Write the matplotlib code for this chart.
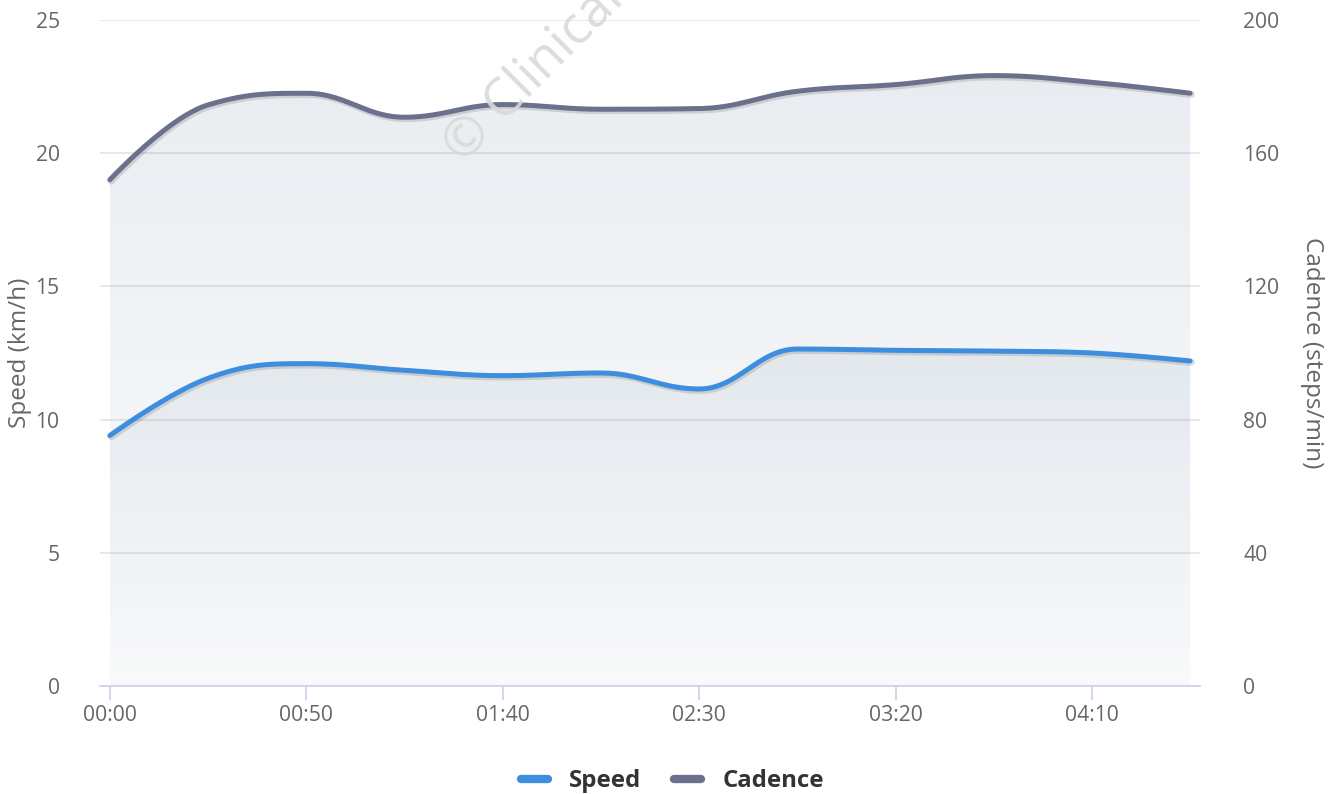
import numpy as np
import matplotlib
matplotlib.use("Agg")
import matplotlib.pyplot as plt
import matplotlib.patheffects as pe
from matplotlib.lines import Line2D

plt.rcParams['font.family'] = ['Open Sans', 'DejaVu Sans']

# data (one point every 25 minutes)
time_labels = ["00:00", "00:25", "00:50", "01:15", "01:40", "02:05",
               "02:30", "02:55", "03:20", "03:45", "04:10", "04:35"]
speed = [9.4, 11.55, 12.1, 11.85, 11.65, 11.75, 11.15, 12.65, 12.6, 12.57, 12.5, 12.2]
cadence = [152, 174.5, 178, 170.8, 174.6, 173.2, 173.4, 178.6, 180.6, 183.3, 181.3, 178.0]

speed_color = "#3e8ee0"
cadence_color = "#6b718c"
fill_rgb = (0.45, 0.55, 0.65)


def spline(xs, ys, steps=30):
    # highcharts style spline (smoothing 1.5)
    n = len(xs)
    sm = 1.5
    right = [None] * n
    left = [None] * n
    for i in range(n):
        x, y = xs[i], ys[i]
        if 0 < i < n - 1:
            lx, ly, nx, ny = xs[i - 1], ys[i - 1], xs[i + 1], ys[i + 1]
            lcx = (sm * x + lx) / (sm + 1)
            lcy = (sm * y + ly) / (sm + 1)
            rcx = (sm * x + nx) / (sm + 1)
            rcy = (sm * y + ny) / (sm + 1)
            corr = (rcy - lcy) * (rcx - x) / (rcx - lcx) + y - rcy
            lcy += corr
            rcy += corr
            if lcy > ly and lcy > y:
                lcy = max(ly, y)
                rcy = 2 * y - lcy
            elif lcy < ly and lcy < y:
                lcy = min(ly, y)
                rcy = 2 * y - lcy
            if rcy > ny and rcy > y:
                rcy = max(ny, y)
                lcy = 2 * y - rcy
            elif rcy < ny and rcy < y:
                rcy = min(ny, y)
                lcy = 2 * y - rcy
            left[i] = (lcx, lcy)
            right[i] = (rcx, rcy)
        else:
            left[i] = (x, y)
            right[i] = (x, y)
    px, py = [xs[0]], [ys[0]]
    t = np.linspace(0, 1, steps)[1:]
    for i in range(1, n):
        p0 = np.array([xs[i - 1], ys[i - 1]])
        p1 = np.array(right[i - 1])
        p2 = np.array(left[i])
        p3 = np.array([xs[i], ys[i]])
        b = ((1 - t) ** 3)[:, None] * p0 + (3 * (1 - t) ** 2 * t)[:, None] * p1 \
            + (3 * (1 - t) * t ** 2)[:, None] * p2 + (t ** 3)[:, None] * p3
        px.extend(b[:, 0])
        py.extend(b[:, 1])
    return np.array(px), np.array(py)


def gradient_area(ax, x, y, top, a_top, a_bot, z):
    poly = ax.fill_between(x, 0, y, facecolor="none", edgecolor="none", zorder=z)
    grad = np.zeros((256, 1, 4))
    grad[:, 0, :3] = fill_rgb
    grad[:, 0, 3] = np.linspace(a_top, a_bot, 256)
    im = ax.imshow(grad, aspect="auto", extent=[x[0], x[-1], 0, top],
                   origin="upper", zorder=z, interpolation="bilinear")
    im.set_clip_path(poly.get_paths()[0], transform=ax.transData)


fig = plt.figure(figsize=(13.37, 7.94), dpi=100)
ax = fig.add_axes([100 / 1337, 108 / 794, 1100 / 1337, 666 / 794])
ax2 = ax.twinx()

xs = np.arange(len(time_labels), dtype=float)
sx, sy = spline(xs, speed)
cx, cy = spline(xs, cadence)

ax2.set_zorder(0)
ax.set_zorder(1)
ax.patch.set_visible(False)

gradient_area(ax2, cx, cy, max(cadence), 0.16, 0.02, 1)
shadow = [pe.SimpleLineShadow(offset=(1, -1), shadow_color="k", alpha=0.12, linewidth=5),
          pe.Normal()]
ax2.plot(cx, cy, color=cadence_color, lw=3.6, solid_capstyle="round",
         zorder=3, path_effects=shadow)

gradient_area(ax, sx, sy, max(speed), 0.11, 0.02, 1)
ax.plot(sx, sy, color=speed_color, lw=3.6, solid_capstyle="round",
        zorder=3, path_effects=shadow)

ax.set_xlim(-0.1, len(xs) - 0.9)
ax.set_ylim(0, 25)
ax2.set_ylim(0, 200)
ax.set_yticks(np.arange(0, 26, 5))
ax2.set_yticks(np.arange(0, 201, 40))
ax.set_xticks(xs[::2])
ax.set_xticklabels(time_labels[::2])

ax2.grid(axis="y", color="#e6e6e6", lw=1.3, zorder=0)
ax2.set_axisbelow(True)

for a in (ax, ax2):
    for s in a.spines.values():
        s.set_visible(False)
ax.spines["bottom"].set_visible(True)
ax.spines["bottom"].set_color("#ccd6eb")
ax.spines["bottom"].set_linewidth(1.3)

ax.tick_params(axis="x", colors="#ccd6eb", length=10, width=1.3, pad=4,
               labelsize=15.2, labelcolor="#666666")
ax.tick_params(axis="y", length=0, pad=29, labelsize=15.2, labelcolor="#666666")
ax2.tick_params(axis="y", length=0, pad=31, labelsize=15.2, labelcolor="#666666")

ax.set_ylabel("Speed (km/h)", fontsize=17.5, color="#666666")
ax2.set_ylabel("Cadence (steps/min)", fontsize=17.5, color="#666666", rotation=270)
ax.yaxis.set_label_coords(-80 / 1100, 0.5)
ax2.yaxis.set_label_coords(1 + 112 / 1100, 0.5)
ax2.yaxis.label.set_va("center")
ax.yaxis.label.set_va("center")

# watermark
fig.text(462 / 1337, 1 - 164 / 794, "© Clinical", fontsize=38, color="#d9d9d9",
         rotation=45, rotation_mode="anchor", ha="left", va="baseline", alpha=0.9)

handles = [Line2D([], [], color=speed_color, lw=6, solid_capstyle="round"),
           Line2D([], [], color=cadence_color, lw=6, solid_capstyle="round")]
fig.legend(handles, ["Speed", "Cadence"], loc="center", bbox_to_anchor=(0.503, 1 - 781 / 794),
           ncol=2, frameon=False, handlelength=1.1, handletextpad=0.9, columnspacing=1.37,
           prop={"weight": "bold", "size": 17.3}, labelcolor="#333333")

fig.savefig("out.png", dpi=100)
